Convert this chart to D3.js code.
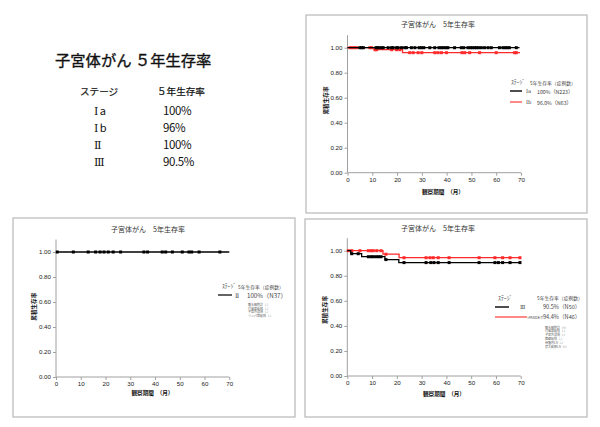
<!DOCTYPE html>
<html><head><meta charset="utf-8">
<script src="https://cdn.jsdelivr.net/npm/d3@7"></script>
<style>
body{margin:0;background:#fff}
svg{display:block}
text{font-family:"Noto Sans CJK JP","Noto Sans",sans-serif}
.rn{font-family:"DejaVu Serif","Liberation Serif",serif}
</style>
</head><body>
<svg id="c" width="600" height="427"></svg>
<script>
// ---------- data ----------
const xTicks = [0, 10, 20, 30, 40, 50, 60, 70];
const yTicks = [0, 0.2, 0.4, 0.6, 0.8, 1.0];
const chartTitle = "子宮体がん　5年生存率";
const xLabel = "観察期間　（月）";
const yLabel = "累積生存率";

const summaryTitle = "子宮体がん ５年生存率";
const summaryHeader = ["ステージ", "５年生存率"];
const summaryStages = [["Ⅰ", "a"], ["Ⅰ", "b"], ["Ⅱ", ""], ["Ⅲ", ""]];
const summaryRates = ["100%", "96%", "100%", "90.5%"];

// Stage Ia
const iaStepTimes = [0];
const iaStepValues = [1.0];
const iaEnd = 69.4;
const iaCensor = [5.0, 5.7, 6.4, 11.5, 12.1, 12.8, 13.8, 14.4, 16.4, 17.8, 18.4, 19.8, 20.4, 21.8, 23.1, 23.8, 25.8, 27.2, 28.9, 29.8, 30.8, 33.2, 35.2, 36.9, 37.9, 38.8, 39.8, 40.5, 43.2, 45.9, 46.9, 48.6, 49.6, 50.4, 51.3, 52.0, 52.9, 54.0, 55.3, 56.7, 58.0, 61.3, 62.7, 63.6, 64.4, 65.3, 68.1];
// Stage Ib
const ibStepTimes = [0, 10.7, 22.2];
const ibStepValues = [1.0, 0.984, 0.96];
const ibEnd = 69.6;
const ibCensor = [1.0, 1.9, 2.7, 3.7, 9.0, 9.7, 11.1, 11.7, 17.8, 19.8, 21.1, 25.1, 26.5, 28.5, 30.0, 35.2, 36.5, 37.9, 39.9, 46.2, 47.3, 49.3, 53.3, 60.0, 67.4, 68.1];
// Stage II
const iiStepTimes = [0];
const iiStepValues = [1.0];
const iiEnd = 70;
const iiCensor = [0.5, 7.0, 13.0, 16.0, 17.8, 19.4, 21.1, 23.1, 26.1, 35.5, 37.0, 42.9, 44.3, 47.0, 51.0, 53.7, 54.8, 57.8, 66.2];
// Stage III
const iiiStepTimes = [0, 1.4, 5.8, 15.2, 20.8];
const iiiStepValues = [1.0, 0.976, 0.952, 0.929, 0.905];
const iiiEnd = 69.7;
const iiiCensor = [1.8, 4.4, 8.5, 9.6, 10.5, 11.6, 12.6, 13.6, 15.6, 22.9, 31.8, 33.7, 35.0, 36.7, 41.1, 53.2, 59.6, 61.0, 62.7, 65.7, 69.7];
// PAND
const pandStepTimes = [0, 14.4, 20.9];
const pandStepValues = [1.0, 0.972, 0.944];
const pandEnd = 69.7;
const pandCensor = [0.4, 1.8, 5.1, 8.5, 9.6, 10.5, 11.9, 13.6, 15.6, 22.9, 31.8, 33.4, 34.7, 36.7, 41.1, 53.2, 59.6, 62.7, 65.7, 69.7];

const legendHeader = ["ｽﾃｰｼﾞ", "5年生存率（症例数）"];
const legendTR = [["Ⅰa", "100%（N223）"], ["Ⅰb", "96.0%（N63）"]];
const legendBL = [["Ⅱ", "100%（N37）"]];
const notesBL = ["腹水細胞診（-）", "付属器転移（-）", "子宮外浸潤（-）", "リンパ節転移（-）"];
const legendBR = [["Ⅲ", "90.5%（N50）"], ["rPANDあり", "94.4%（N46）"]];
const notesBR = ["腹水細胞診（+）", "付属器転移（-）", "子宮外浸潤（-）", "腟壁転移（-）", "骨盤内LN（-）", "傍大動脈LN（+）"];

// ---------- drawing ----------
const svg = d3.select("#c");
const BLACK = "#000", RED = "#ff2a2a", LRED = "#ff5555";

const sg = svg.append("g");
sg.append("text").attr("x", 55).attr("y", 66).attr("font-size", 15.3).attr("fill", "#111")
  .attr("stroke", "#111").attr("stroke-width", 0.35).text(summaryTitle);
sg.append("text").attr("x", 80).attr("y", 95).attr("font-size", 9.6).attr("fill", "#111")
  .attr("stroke", "#111").attr("stroke-width", 0.2).text(summaryHeader[0]);
sg.append("text").attr("x", 157).attr("y", 95).attr("font-size", 9.6).attr("fill", "#111")
  .attr("stroke", "#111").attr("stroke-width", 0.2).text(summaryHeader[1]);
summaryStages.forEach((s, i) => {
  const y = 114.5 + i * 17.2;
  const t = sg.append("text").attr("x", 94).attr("y", y).attr("font-size", 11).attr("fill", "#111");
  t.append("tspan").attr("class", "rn").text(s[0]);
  if (s[1]) t.append("tspan").attr("dx", 1.5).text(s[1]);
  sg.append("text").attr("x", 163).attr("y", y).attr("font-size", 11.5).attr("fill", "#111").attr("letter-spacing", -0.4).text(summaryRates[i]);
});

function frame(x0, y0, x1, y1) {
  svg.append("rect").attr("x", x0).attr("y", y0).attr("width", x1 - x0).attr("height", y1 - y0)
    .attr("fill", "none").attr("stroke", "#b8b8b8").attr("stroke-width", 1.2);
}

function valueAt(times, values, t) {
  let v = values[0];
  for (let i = 0; i < times.length; i++) if (times[i] <= t) v = values[i];
  return v;
}

function drawPanel(p) {
  const x = d3.scaleLinear().domain([0, 70]).range([p.x0, p.x1]);
  const y = d3.scaleLinear().domain([0, 1.1]).range([p.yb, p.yb - 1.1 * p.h]);
  const g = svg.append("g");
  const ya = g.append("g").attr("transform", `translate(${p.x0},0)`)
    .call(d3.axisLeft(y).tickValues(yTicks).tickFormat(d3.format(".2f")).tickSize(3).tickPadding(2));
  const xa = g.append("g").attr("transform", `translate(0,${p.yb})`)
    .call(d3.axisBottom(x).tickValues(xTicks).tickFormat(d3.format("d")).tickSize(3).tickPadding(2));
  [ya, xa].forEach(a => {
    a.select(".domain").attr("stroke", "#a0a0a0").attr("stroke-width", 1);
    a.selectAll(".tick line").attr("stroke", "#a0a0a0");
    a.selectAll("text").attr("font-size", 6.2).attr("fill", "#222")
      .style("font-family", "'Liberation Sans',Arial,sans-serif");
  });
  ya.select(".domain").attr("d", `M0,${y(0)}V${y(1.1)}`);
  xa.select(".domain").attr("d", `M${x(0)},0H${x(70)}`);
  g.append("text").attr("x", p.tx).attr("y", p.ty).attr("text-anchor", "middle")
    .attr("font-size", 7).attr("fill", "#333").text(chartTitle);
  g.append("text").attr("x", p.xlx).attr("y", p.xly).attr("text-anchor", "middle")
    .attr("font-size", 5.6).attr("font-weight", "bold").attr("fill", "#111").text(xLabel);
  g.append("text").attr("transform", `translate(${p.ylx},${p.yly}) rotate(-90)`).attr("text-anchor", "middle")
    .attr("font-size", 5.6).attr("font-weight", "bold").attr("fill", "#111").text(yLabel);
  p.series.forEach(s => {
    const pts = [];
    s.times.forEach((t, i) => {
      if (i > 0) pts.push([t, s.values[i - 1]]);
      pts.push([t, s.values[i]]);
    });
    pts.push([s.end, s.values[s.values.length - 1]]);
    g.append("path").attr("d", d3.line().x(d => x(d[0])).y(d => y(d[1]))(pts))
      .attr("fill", "none").attr("stroke", s.color).attr("stroke-width", 1.3);
    g.selectAll(null).data(s.censor).enter().append("rect")
      .attr("x", d => x(d) - 1.5).attr("y", d => y(valueAt(s.times, s.values, d)) - 1.5)
      .attr("width", 3).attr("height", 3).attr("fill", s.color);
  });
}

frame(306, 15, 587, 213);
frame(13, 218, 295, 417);
frame(305, 219, 587, 417);

drawPanel({x0: 347.5, x1: 521, yb: 172.7, h: 125, tx: 438, ty: 27, xlx: 443, xly: 194, ylx: 328, yly: 100.5,
  series: [
    {times: ibStepTimes, values: ibStepValues, end: ibEnd, censor: ibCensor, color: RED},
    {times: iaStepTimes, values: iaStepValues, end: iaEnd, censor: iaCensor, color: BLACK}
  ]});
drawPanel({x0: 56, x1: 229.3, yb: 377, h: 125, tx: 148, ty: 232, xlx: 152.5, xly: 395, ylx: 36, yly: 306.7,
  series: [
    {times: iiStepTimes, values: iiStepValues, end: iiEnd, censor: iiCensor, color: BLACK}
  ]});
drawPanel({x0: 347.3, x1: 520.7, yb: 376, h: 125.3, tx: 438, ty: 231, xlx: 444, xly: 396, ylx: 327, yly: 310,
  series: [
    {times: pandStepTimes, values: pandStepValues, end: pandEnd, censor: pandCensor, color: RED},
    {times: iiiStepTimes, values: iiiStepValues, end: iiiEnd, censor: iiiCensor, color: BLACK}
  ]});

function ltext(x, y, s, size, fill, cls) {
  return svg.append("text").attr("x", x).attr("y", y).attr("font-size", size).attr("fill", fill || "#333")
    .attr("dominant-baseline", "central").attr("class", cls || null).text(s);
}
function lline(x0, x1, y, color) {
  svg.append("line").attr("x1", x0).attr("x2", x1).attr("y1", y).attr("y2", y)
    .attr("stroke", color).attr("stroke-width", 1.4);
}
// top-right legend
ltext(511, 82, legendHeader[0], 5.6, "#444");
ltext(530, 82, legendHeader[1], 4.8, "#444");
[BLACK, LRED].forEach((c, i) => {
  const yy = 91 + i * 11;
  lline(510, 522, yy, c);
  ltext(526, yy, legendTR[i][0], 5.2, "#444", "rn");
  ltext(537, yy, legendTR[i][1], 5.2, "#444");
});
// bottom-left legend
ltext(222, 286, legendHeader[0], 5.6, "#444");
ltext(238, 286, legendHeader[1], 4.8, "#444");
lline(218, 232, 295, "#222");
ltext(235, 295, legendBL[0][0], 6.2, "#444", "rn");
ltext(247, 295, legendBL[0][1], 6.2, "#444");
notesBL.forEach((n, i) => ltext(248, 305 + i * 3.6, n, 3.0, "#666"));
// bottom-right legend
ltext(498, 297, legendHeader[0], 5.8, "#444");
ltext(537, 297, legendHeader[1], 4.8, "#444");
lline(495, 509, 307, BLACK);
ltext(520, 307, legendBR[0][0], 5.6, "#444", "rn");
ltext(543, 307, legendBR[0][1], 5.6, "#444");
lline(495, 527, 317, LRED);
ltext(527.5, 317, legendBR[1][0], 3.2, "#444");
ltext(543, 317, legendBR[1][1], 5.6, "#444");
notesBR.forEach((n, i) => ltext(545, 327.5 + i * 3.8, n, 3.0, "#666"));
</script>
</body></html>
